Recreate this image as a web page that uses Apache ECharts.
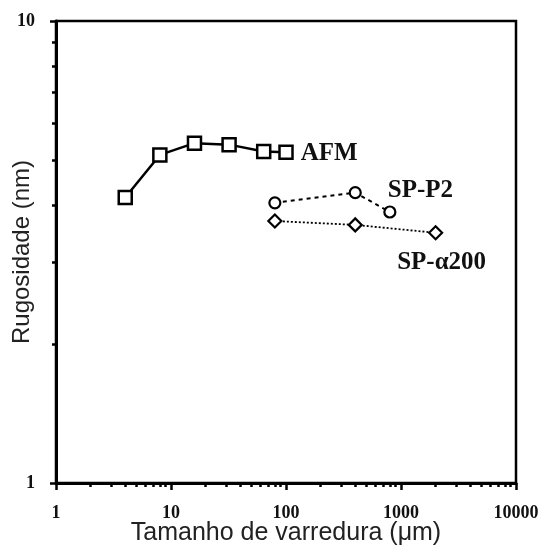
<!DOCTYPE html>
<html>
<head>
<meta charset="utf-8">
<script src="https://cdn.jsdelivr.net/npm/echarts@6/dist/echarts.min.js"></script>
<style>html,body{margin:0;padding:0;background:#fff}#c{width:545px;height:546px}</style>
</head>
<body>
<div id="c"></div>
<script>
const xTickLabels = [1, 10, 100, 1000, 10000];
const yTickLabels = [1, 10];
const afmX = [4, 8, 16, 32, 64, 100];
const afmY = [4.15, 5.13, 5.44, 5.40, 5.22, 5.20];
const p2X = [80, 400, 800];
const p2Y = [4.04, 4.25, 3.86];
const a200X = [80, 400, 2000];
const a200Y = [3.69, 3.62, 3.48];

const minorX = [];
for (let d = 1; d < 10000; d *= 10) for (let k = 1; k < 10; k++) minorX.push(d * k);
minorX.push(10000);
const minorY = [1,2,3,4,5,6,7,8,9,10];

const chart = echarts.init(document.getElementById('c'));
const serif = 'Liberation Serif';
const pair = (xs, ys) => xs.map((x, i) => [x, ys[i]]);

const afmData = pair(afmX, afmY).map((p, i, a) => i === a.length - 1 ? {value: p, label: {show: true, position: 'right', distance: 7, offset: [0, 1], formatter: 'AFM'}} : p);
const p2Data = pair(p2X, p2Y).map((p, i) => i === 1 ? {value: p, label: {show: true, position: 'right', distance: 26, offset: [0, -2], formatter: 'SP-P2'}} : p);
const a200Data = pair(a200X, a200Y).map((p, i, a) => i === a.length - 1 ? {value: p, label: {show: true, position: 'bottom', offset: [6, 5], formatter: 'SP-α200'}} : p);

const lbl = {fontFamily: serif, fontWeight: 'bold', fontSize: 25, color: '#111'};
const fmt = v => String(Math.round(v));

chart.setOption({
  animation: false,
  grid: {left: 56, right: 29, top: 21, bottom: 63, outerBoundsMode: 'none', containLabel: false, show: true, borderColor: '#000', borderWidth: 2.5},
  xAxis: [{
    type: 'log', min: 1, max: 10000, logBase: 10,
    name: 'Tamanho de varredura (μm)', nameLocation: 'middle', nameGap: 38, nameMoveOverlap: false,
    nameTextStyle: {fontFamily: 'Liberation Sans', fontSize: 25, color: '#222'},
    axisLine: {show: true, lineStyle: {color: '#000', width: 3}},
    axisTick: {show: true, inside: false, length: 7, lineStyle: {color: '#000', width: 2.5}, customValues: xTickLabels},
    axisLabel: {fontFamily: serif, fontWeight: 'bold', fontSize: 18, color: '#111', margin: 21, customValues: xTickLabels, formatter: fmt},
    splitLine: {show: false}, minorTick: {show: false}
  }, {
    type: 'log', min: 1, max: 10000, logBase: 10, position: 'bottom', gridIndex: 0,
    axisLine: {show: false},
    axisTick: {show: true, length: 4, lineStyle: {color: '#000', width: 2.5}, customValues: minorX},
    axisLabel: {show: false}, splitLine: {show: false}
  }],
  yAxis: [{
    type: 'log', min: 1, max: 10, logBase: 10,
    name: 'Rugosidade (nm)', nameLocation: 'middle', nameGap: 22, nameRotate: 90, nameMoveOverlap: false,
    nameTextStyle: {fontFamily: 'Liberation Sans', fontSize: 24, color: '#222'},
    axisLine: {show: true, lineStyle: {color: '#000', width: 3}},
    axisTick: {show: true, length: 6, lineStyle: {color: '#000', width: 2.5}, customValues: yTickLabels},
    axisLabel: {fontFamily: serif, fontWeight: 'bold', fontSize: 18, color: '#111', margin: 21, customValues: yTickLabels, formatter: fmt},
    splitLine: {show: false}
  }, {
    type: 'log', min: 1, max: 10, logBase: 10, position: 'left', gridIndex: 0,
    axisLine: {show: false},
    axisTick: {show: true, length: 4, lineStyle: {color: '#000', width: 2.5}, customValues: minorY},
    axisLabel: {show: false}, splitLine: {show: false}
  }],
  series: [{
    name: 'AFM', type: 'line', data: afmData,
    symbol: 'rect', symbolSize: 13,
    lineStyle: {color: '#000', width: 2.5},
    itemStyle: {color: '#fff', borderColor: '#000', borderWidth: 2.5},
    label: Object.assign({show: false}, lbl)
  }, {
    name: 'SP-P2', type: 'line', data: p2Data,
    symbol: 'circle', symbolSize: 11,
    lineStyle: {color: '#000', width: 2, type: [4, 4]},
    itemStyle: {color: '#fff', borderColor: '#000', borderWidth: 2.2},
    label: Object.assign({show: false}, lbl)
  }, {
    name: 'SP-α200', type: 'line', data: a200Data,
    symbol: 'diamond', symbolSize: 13,
    lineStyle: {color: '#000', width: 1.8, type: [2, 2]},
    itemStyle: {color: '#fff', borderColor: '#000', borderWidth: 2.2},
    label: Object.assign({show: false}, lbl)
  }]
});
</script>
</body>
</html>
